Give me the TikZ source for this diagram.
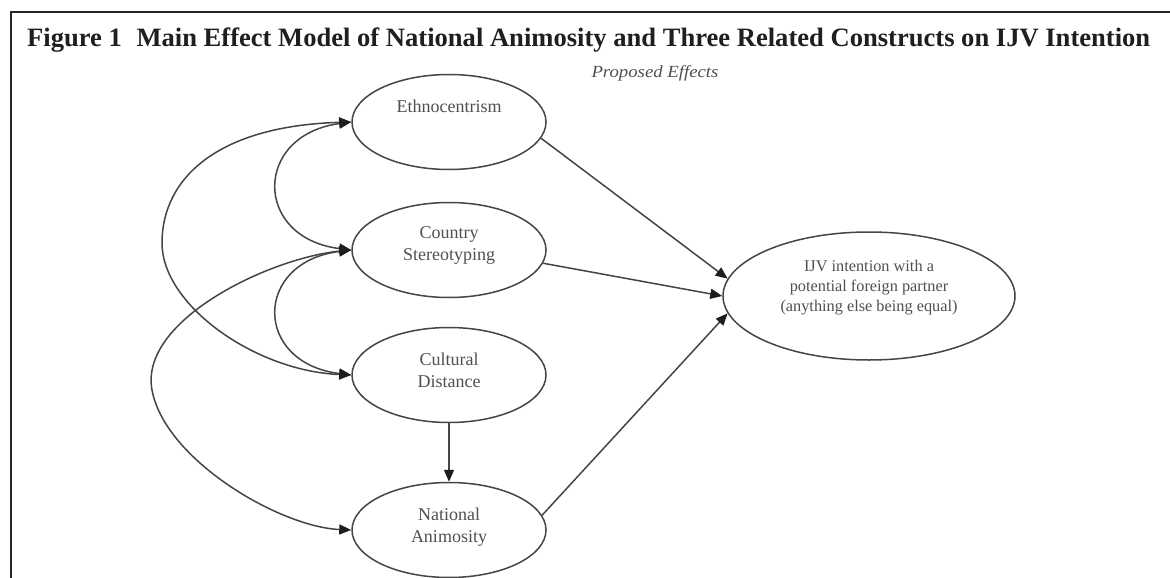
\documentclass[tikz,border=0pt]{standalone}
\usepackage{fontspec}
\setmainfont{Liberation Serif}
\usetikzlibrary{shapes.geometric,arrows.meta}
\definecolor{ink}{HTML}{454545}
\definecolor{tipcol}{HTML}{1E1E1E}
\definecolor{txt}{HTML}{505050}
\definecolor{rulecol}{HTML}{262626}
\begin{document}
\begin{tikzpicture}[x=1pt,y=-1pt,
  construct/.style={ellipse,draw=ink,line width=1.5pt,minimum width=194pt,minimum height=95pt,inner sep=0pt},
  lbl/.style={text=txt,font=\fontsize{18}{22}\selectfont,align=center,inner sep=0pt},
  effect/.style={draw=ink,line width=1.5pt,-{Triangle[length=12pt,width=10pt,color=tipcol]}},
  cov/.style={draw=ink,line width=1.5pt,{Triangle[length=12pt,width=10pt,color=tipcol]}-{Triangle[length=12pt,width=10pt,color=tipcol]}}]
\useasboundingbox (0,0) rectangle (1170,578);
\fill[white] (0,0) rectangle (1170,578);
% frame
\draw[rulecol,line width=2.6pt] (11,578) -- (11,12) -- (1170,12);
% heading
\node[anchor=base west,inner sep=0pt,text=black!88] (title) at (27,47)
  {\resizebox{1123pt}{\height}{\fontsize{26.5}{30}\selectfont\bfseries Figure 1\hspace{0.3em} Main Effect Model of National Animosity and Three Related Constructs on IJV Intention}};
\node[inner sep=0pt,text=txt] (sub) at (655,73)
  {\resizebox{127pt}{\height}{\fontsize{17}{20}\selectfont\itshape Proposed Effects}};
% constructs
\node[construct] (eth) at (449,122) {};
\node[construct] (cty) at (449,250) {};
\node[construct] (cul) at (449,375) {};
\node[construct] (nat) at (449,530) {};
\node[construct,minimum width=292pt,minimum height=128pt] (ijv) at (869,296) {};
\node[lbl] (ethT) at (449,106) {Ethnocentrism};
\node[lbl] (ctyT) at (449,245) {Country\\Stereotyping};
\node[lbl] (culT) at (449,370) {Cultural\\Distance};
\node[lbl] (natT) at (449,527) {National\\Animosity};
\node[lbl,font=\fontsize{16.3}{20}\selectfont] (ijvT) at (869,288)
  {IJV intention with a\\potential foreign partner\\(anything else being equal)};
% main effects
\draw[effect] (eth.-10) -- (ijv.173);
\draw[effect] (cty.-8) -- (ijv.180);
\draw[effect] (nat.9) -- (ijv.187);
\draw[effect] (cul.south) -- (nat.north);
% correlations
\draw[cov] (eth.west) .. controls (253,135) and (253,238) .. (cty.west);
\draw[cov] (cty.west) .. controls (253,262) and (253,363) .. (cul.west);
\draw[cov] (eth.west) .. controls (215,126) and (162,180) .. (162,243)
  .. controls (162,305) and (255,371) .. (cul.west);
\draw[cov] (cty.west) .. controls (270,258) and (139,320) .. (152,390)
  .. controls (165,460) and (280,527) .. (nat.west);
\end{tikzpicture}
\end{document}
